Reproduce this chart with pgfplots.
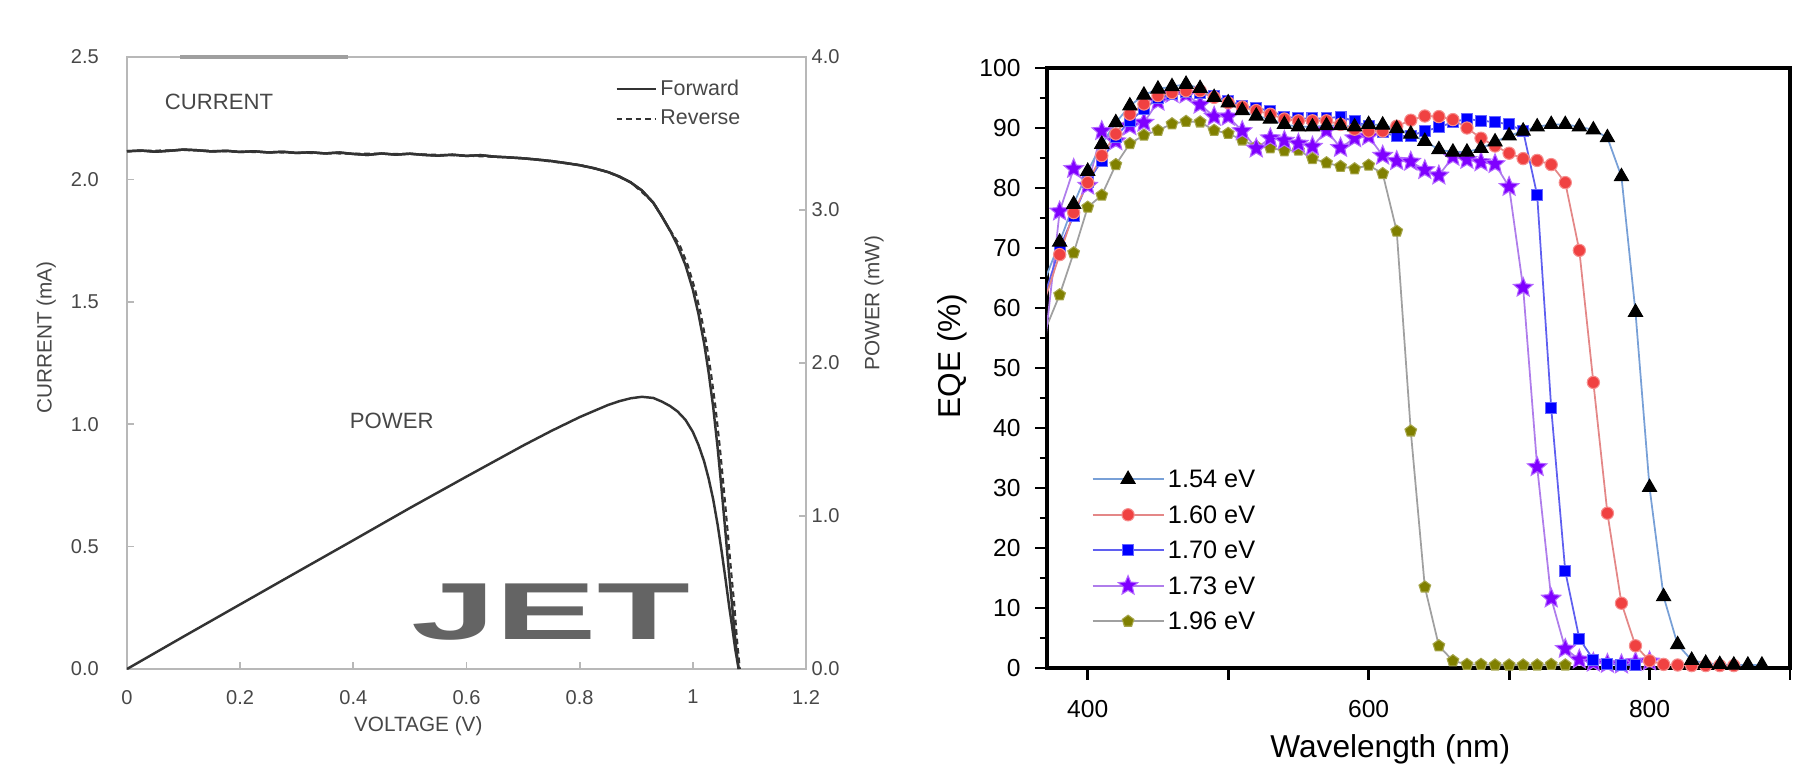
\documentclass[border=0pt]{standalone}
\usepackage{fontspec}
\setmainfont{Liberation Sans}
\usepackage{graphicx}
\usepackage{pgfplots}
\pgfplotsset{compat=1.18}
\usetikzlibrary{plotmarks}

\definecolor{ltext}{HTML}{474747}
\definecolor{lline}{HTML}{333333}
\definecolor{lframe}{HTML}{B8B8B8}
\definecolor{jet}{HTML}{646464}
\definecolor{l154}{RGB}{120,160,215}
\definecolor{l160}{RGB}{228,135,135}
\definecolor{m160}{RGB}{240,65,65}
\definecolor{l170}{RGB}{95,95,240}
\definecolor{m170}{RGB}{0,0,255}
\definecolor{l173}{RGB}{175,125,235}
\definecolor{m173}{RGB}{127,0,255}
\definecolor{l196}{RGB}{160,160,160}
\definecolor{m196}{RGB}{128,128,0}

\pgfdeclareplotmark{fstar}{%
  \pgfpathmoveto{\pgfpointpolar{90}{\pgfplotmarksize}}%
  \pgfpathlineto{\pgfpointpolar{126}{0.45\pgfplotmarksize}}%
  \pgfpathlineto{\pgfpointpolar{162}{\pgfplotmarksize}}%
  \pgfpathlineto{\pgfpointpolar{198}{0.45\pgfplotmarksize}}%
  \pgfpathlineto{\pgfpointpolar{234}{\pgfplotmarksize}}%
  \pgfpathlineto{\pgfpointpolar{270}{0.45\pgfplotmarksize}}%
  \pgfpathlineto{\pgfpointpolar{306}{\pgfplotmarksize}}%
  \pgfpathlineto{\pgfpointpolar{342}{0.45\pgfplotmarksize}}%
  \pgfpathlineto{\pgfpointpolar{18}{\pgfplotmarksize}}%
  \pgfpathlineto{\pgfpointpolar{54}{0.45\pgfplotmarksize}}%
  \pgfpathclose
  \pgfusepathqfillstroke}

\begin{document}
\begin{tikzpicture}
\path[use as bounding box] (0,0) rectangle (179.4mm,76.7mm);

% ---------------- Left panel: current ----------------
\begin{axis}[
  name=iv,
  scale only axis,
  width=67.9mm, height=61.2mm,
  at={(12.7mm,9.8mm)}, anchor=south west,
  xmin=0, xmax=1.2, ymin=0, ymax=2.5,
  xtick={0,0.2,0.4,0.6,0.8,1,1.2},
  ytick={0,0.5,1,1.5,2,2.5},
  xtick pos=left, ytick pos=left,
  tick align=inside,
  major tick length=2pt,
  tick style={lframe, line width=0.5pt},
  axis line style={lframe, line width=0.8pt},
  /pgf/number format/assume math mode=true,
  tick label style={font=\fontsize{5.7}{6.5}\selectfont, text=ltext},
  yticklabel style={/pgf/number format/fixed, /pgf/number format/fixed zerofill, /pgf/number format/precision=1},
  xticklabel shift=2.5pt,
  yticklabel shift=4.5pt,
  xlabel={VOLTAGE (V)},
  ylabel={CURRENT (mA)},
  label style={font=\fontsize{5.9}{7}\selectfont, text=ltext},
  xlabel style={at={(axis description cs:0.429,-0.093)}, anchor=center},
  ylabel style={at={(axis description cs:-0.119,0.542)}, anchor=center},
  clip=false,
  legend style={at={(0.925,0.985)}, anchor=north east, draw=none, fill=none,
    font=\fontsize{6.1}{7}\selectfont, text=ltext,
    nodes={inner sep=1pt, text height=5pt, text depth=1.5pt}},
  legend cell align=left,
  legend image code/.code={\draw[#1] (0mm,0mm) -- (3.9mm,0mm);},
]
\addplot[lline, line width=0.7pt] coordinates {
(0.000,2.115)(0.025,2.118)(0.050,2.113)(0.075,2.117)(0.100,2.122)(0.125,2.119)
(0.150,2.114)(0.175,2.117)(0.200,2.112)(0.225,2.115)(0.250,2.110)(0.275,2.113)
(0.300,2.108)(0.325,2.111)(0.350,2.106)(0.375,2.110)(0.400,2.104)(0.425,2.100)
(0.450,2.106)(0.475,2.101)(0.500,2.105)(0.525,2.100)(0.550,2.097)(0.575,2.101)
(0.600,2.096)(0.625,2.099)(0.650,2.093)(0.675,2.090)(0.700,2.086)(0.725,2.081)
(0.750,2.075)(0.775,2.067)(0.800,2.058)(0.825,2.046)(0.850,2.030)(0.870,2.012)
(0.890,1.988)(0.910,1.955)(0.930,1.905)(0.945,1.850)(0.960,1.790)(0.973,1.730)
(0.987,1.650)(1.000,1.550)(1.010,1.450)(1.020,1.330)(1.028,1.210)(1.036,1.070)
(1.044,0.900)(1.051,0.730)(1.058,0.550)(1.064,0.390)(1.069,0.270)(1.075,0.120)
(1.081,0.000)};
\addlegendentry{Forward}
\addplot[lline, line width=0.6pt, dash pattern=on 1.6pt off 1.1pt] coordinates {
(0.000,2.115)(0.100,2.120)(0.200,2.113)(0.300,2.109)(0.400,2.105)(0.500,2.104)
(0.600,2.097)(0.700,2.087)(0.800,2.059)(0.850,2.031)(0.890,1.989)(0.930,1.907)
(0.960,1.792)(0.977,1.730)(0.991,1.650)(1.004,1.550)(1.014,1.450)(1.024,1.330)
(1.032,1.210)(1.040,1.070)(1.048,0.900)(1.055,0.730)(1.062,0.550)(1.068,0.390)
(1.073,0.270)(1.078,0.120)(1.083,0.000)};
\addlegendentry{Reverse}
\addplot[lline, line width=0.7pt, forget plot] coordinates {
(0.000,2.115)(0.025,2.118)(0.050,2.113)(0.075,2.117)(0.100,2.122)(0.125,2.119)
(0.150,2.114)(0.175,2.117)(0.200,2.112)(0.225,2.115)(0.250,2.110)(0.275,2.113)
(0.300,2.108)(0.325,2.111)(0.350,2.106)(0.375,2.110)(0.400,2.104)(0.425,2.100)
(0.450,2.106)(0.475,2.101)(0.500,2.105)(0.525,2.100)(0.550,2.097)(0.575,2.101)
(0.600,2.096)(0.625,2.099)(0.650,2.093)(0.675,2.090)(0.700,2.086)(0.725,2.081)
(0.750,2.075)(0.775,2.067)(0.800,2.058)(0.825,2.046)(0.850,2.030)(0.870,2.012)
(0.890,1.988)(0.910,1.955)(0.930,1.905)(0.945,1.850)(0.960,1.790)};
\addplot[gray!75, line width=1.3pt, forget plot] coordinates {(0.094,2.5)(0.39,2.5)};
\node[anchor=west, font=\fontsize{6.3}{7}\selectfont, text=ltext] at (axis cs:0.045,2.315) {CURRENT};
\node[anchor=west, font=\fontsize{6.3}{7}\selectfont, text=ltext] at (axis cs:0.372,1.014) {POWER};
\node[font=\bfseries\fontsize{23}{24}\selectfont, text=jet, inner sep=0pt] at (axis cs:0.749,0.233) {\scalebox{1.88}[1]{JET}};
\end{axis}

% ---------------- Left panel: power (right axis) ----------------
\begin{axis}[
  scale only axis,
  width=67.9mm, height=61.2mm,
  at={(12.7mm,9.8mm)}, anchor=south west,
  xmin=0, xmax=1.2, ymin=0, ymax=4,
  axis x line=none,
  axis y line*=right,
  ytick={0,1,2,3,4},
  tick align=inside,
  major tick length=2pt,
  tick style={lframe, line width=0.5pt},
  axis line style={lframe, line width=0.8pt},
  /pgf/number format/assume math mode=true,
  tick label style={font=\fontsize{5.7}{6.5}\selectfont, text=ltext},
  yticklabel style={/pgf/number format/fixed, /pgf/number format/fixed zerofill, /pgf/number format/precision=1},
  yticklabel shift=-1.9pt,
  ylabel={POWER (mW)},
  label style={font=\fontsize{5.9}{7}\selectfont, text=ltext},
  ylabel style={at={(axis description cs:1.10,0.598)}, anchor=center},
]
\addplot[lline, line width=0.7pt] coordinates {
(0,0)(0.1,0.2122)(0.2,0.4224)(0.3,0.6324)(0.4,0.8416)(0.5,1.0525)(0.6,1.2576)
(0.7,1.4602)(0.75,1.5563)(0.8,1.6464)(0.85,1.7255)(0.87,1.7504)(0.89,1.7693)
(0.91,1.7791)(0.93,1.7717)(0.945,1.7483)(0.96,1.7184)(0.973,1.6833)(0.987,1.6286)
(1.0,1.55)(1.01,1.4645)(1.02,1.3566)(1.028,1.2439)(1.036,1.1085)(1.044,0.9396)
(1.051,0.7672)(1.058,0.5819)(1.064,0.415)(1.069,0.2886)(1.075,0.129)(1.081,0)};
\end{axis}

% ---------------- Right panel: EQE ----------------
\begin{axis}[
  scale only axis,
  width=74.3mm, height=60.0mm,
  at={(104.7mm,9.9mm)}, anchor=south west,
  xmin=371, xmax=900, ymin=0, ymax=100,
  xtick={400,500,600,700,800,900},
  xticklabels={400,,600,,800,},
  ytick={0,10,20,30,40,50,60,70,80,90,100},
  minor ytick={5,15,25,35,45,55,65,75,85,95},
  xtick pos=left, ytick pos=left,
  tick align=outside,
  major tick length=3.4pt,
  minor tick length=2pt,
  tick style={black, line width=0.8pt},
  axis line style={black, line width=0.9pt},
  /pgf/number format/assume math mode=true,
  tick label style={font=\fontsize{7}{8}\selectfont},
  xticklabel shift=2.2pt,
  yticklabel shift=0.6pt,
  xlabel={Wavelength (nm)},
  ylabel={EQE (\%)},
  label style={font=\fontsize{9}{10.5}\selectfont},
  xlabel style={at={(axis description cs:0.462,-0.135)}, anchor=center},
  ylabel style={at={(axis description cs:-0.128,0.52)}, anchor=center},
  legend style={at={(0.045,0.357)}, anchor=north west, draw=none, fill=none,
    font=\fontsize{7.2}{8}\selectfont,
    nodes={inner sep=1pt, text height=6.4pt, text depth=1.7pt}},
  legend cell align=left,
  reverse legend,
  legend image code/.code={\draw[mark repeat=2,mark phase=2,#1] plot coordinates {(0mm,0mm) (3.55mm,0mm) (7.1mm,0mm)};},
]
% 1.96 eV
\addplot[l196, line width=0.5pt, mark=pentagon*, mark size=1.75pt, mark options={fill=m196, draw=m196!70!white, line width=0.3pt}] coordinates {
(370,56.5)(380,62.2)(390,69.2)(400,76.8)(410,78.8)(420,83.9)(430,87.4)(440,88.8)
(450,89.6)(460,90.7)(470,91.1)(480,91.0)(490,89.6)(500,89.1)(510,88.0)(520,86.9)
(530,86.7)(540,86.2)(550,86.3)(560,84.9)(570,84.2)(580,83.6)(590,83.2)(600,83.8)
(610,82.4)(620,72.8)(630,39.5)(640,13.5)(650,3.7)(660,1.2)(670,0.6)(680,0.6)
(690,0.5)(700,0.5)(710,0.5)(720,0.5)(730,0.6)(740,0.5)};
\addlegendentry{1.96 eV}
% 1.73 eV
\addplot[l173, line width=0.5pt, mark=fstar, mark size=2.9pt, mark options={fill=m173, draw=m173!60!white, line width=0.3pt}] coordinates {
(370,55.0)(380,76.1)(390,83.2)(400,80.4)(410,89.5)(420,87.8)(430,90.3)(440,90.9)
(450,94.4)(460,95.7)(470,95.6)(480,93.9)(490,91.9)(500,91.9)(510,89.5)(520,86.6)
(530,88.3)(540,87.9)(550,87.4)(560,86.9)(570,89.6)(580,86.7)(590,88.3)(600,88.6)
(610,85.4)(620,84.5)(630,84.4)(640,83.0)(650,82.1)(660,85.2)(670,84.7)(680,84.3)
(690,84.0)(700,80.2)(710,63.4)(720,33.5)(730,11.6)(740,3.2)(750,1.4)(760,0.9)
(770,0.7)(780,0.6)(790,1.0)(800,1.1)};
\addlegendentry{1.73 eV}
% 1.70 eV
\addplot[l170, line width=0.5pt, mark=square*, mark size=1.55pt, mark options={fill=m170, draw=m170!60!white, line width=0.3pt}] coordinates {
(370,62.6)(380,70.0)(390,75.4)(400,81.0)(410,84.5)(420,88.5)(430,91.2)(440,93.1)
(450,95.0)(460,95.6)(470,96.0)(480,95.8)(490,95.3)(500,94.5)(510,93.7)(520,93.3)
(530,92.9)(540,91.9)(550,91.6)(560,91.6)(570,91.6)(580,91.9)(590,91.1)(600,90.3)
(610,89.3)(620,88.6)(630,88.7)(640,89.5)(650,90.1)(660,91.0)(670,91.5)(680,91.2)
(690,91.0)(700,90.6)(710,89.5)(720,78.8)(730,43.3)(740,16.1)(750,4.9)(760,1.4)
(770,0.7)(780,0.5)(790,0.5)};
\addlegendentry{1.70 eV}
% 1.60 eV
\addplot[l160, line width=0.5pt, mark=*, mark size=1.75pt, mark options={fill=m160, draw=m160!60!white, line width=0.3pt}] coordinates {
(370,61.8)(380,68.9)(390,75.9)(400,80.9)(410,85.4)(420,89.0)(430,92.3)(440,94.0)
(450,95.4)(460,95.9)(470,96.2)(480,96.2)(490,95.1)(500,94.2)(510,93.5)(520,92.9)
(530,92.3)(540,91.5)(550,91.2)(560,91.2)(570,91.2)(580,90.6)(590,89.8)(600,89.5)
(610,89.5)(620,90.3)(630,91.3)(640,92.0)(650,91.9)(660,91.4)(670,90.0)(680,88.3)
(690,87.0)(700,85.8)(710,84.9)(720,84.6)(730,83.9)(740,80.9)(750,69.6)(760,47.6)
(770,25.8)(780,10.8)(790,3.7)(800,1.2)(810,0.6)(820,0.5)(830,0.4)(840,0.4)
(850,0.4)(860,0.4)};
\addlegendentry{1.60 eV}
% 1.54 eV
\addplot[l154, line width=0.5pt, mark=triangle*, mark size=2.3pt, mark options={fill=black, draw=black, line width=0.3pt}] coordinates {
(370,65.0)(380,71.0)(390,77.3)(400,82.8)(410,87.3)(420,90.9)(430,93.7)(440,95.5)
(450,96.5)(460,96.9)(470,97.3)(480,96.6)(490,95.1)(500,94.2)(510,92.9)(520,92.0)
(530,91.5)(540,90.6)(550,90.2)(560,90.2)(570,90.4)(580,90.4)(590,90.2)(600,90.6)
(610,90.5)(620,89.9)(630,89.0)(640,87.8)(650,86.4)(660,86.0)(670,86.0)(680,86.6)
(690,87.7)(700,88.7)(710,89.5)(720,90.2)(730,90.6)(740,90.6)(750,90.2)(760,89.7)
(770,88.4)(780,81.9)(790,59.3)(800,30.1)(810,11.9)(820,3.9)(830,1.3)(840,0.8)
(850,0.6)(860,0.5)(870,0.5)(880,0.5)};
\addlegendentry{1.54 eV}
\end{axis}
\end{tikzpicture}
\end{document}
